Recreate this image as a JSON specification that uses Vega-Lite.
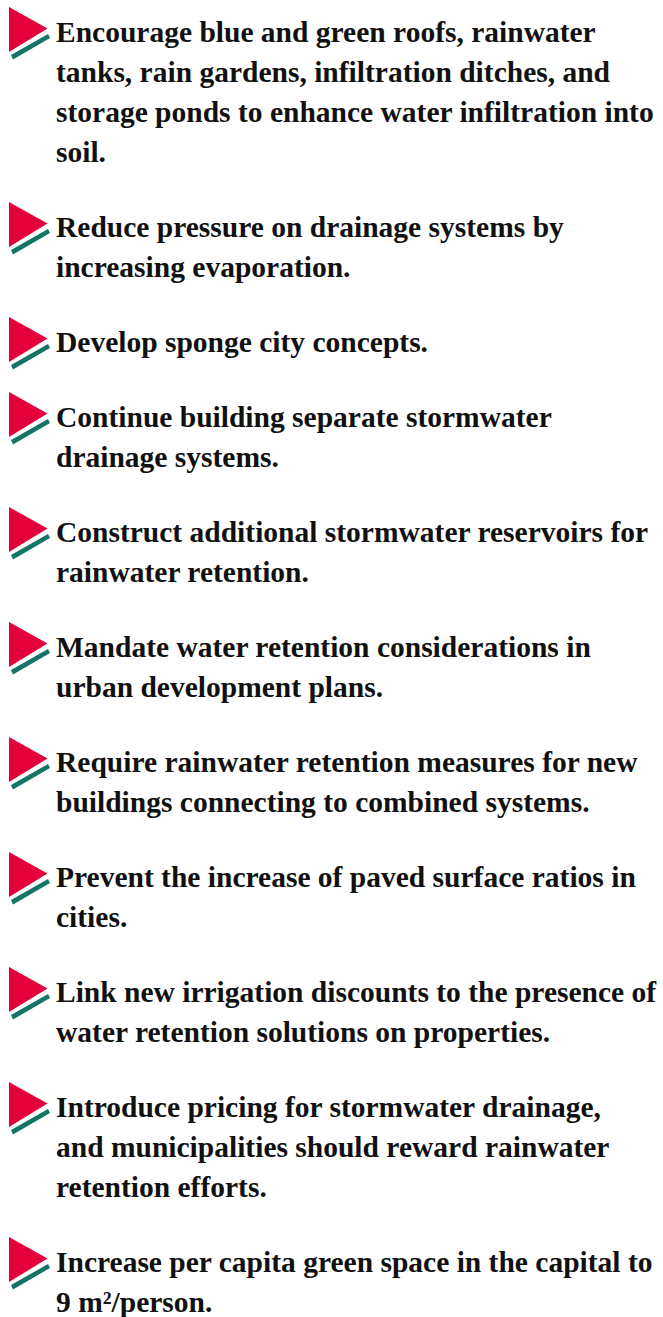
{
  "$schema": "https://vega.github.io/schema/vega-lite/v6.json",
  "autosize": {"type": "pad"},
  "bounds": "flush",
  "padding": {"left": 0, "top": 7, "right": 0, "bottom": 0},
  "background": "#ffffff",
  "config": {"view": {"stroke": null}},
  "data": {
    "values": [
      {"item": 1, "sub": 1, "text": "Encourage blue and green roofs, rainwater"},
      {"item": 1, "sub": 2, "text": "tanks, rain gardens, infiltration ditches, and"},
      {"item": 1, "sub": 3, "text": "storage ponds to enhance water infiltration into"},
      {"item": 1, "sub": 4, "text": "soil."},
      {"item": 2, "sub": 1, "text": "Reduce pressure on drainage systems by"},
      {"item": 2, "sub": 2, "text": "increasing evaporation."},
      {"item": 3, "sub": 1, "text": "Develop sponge city concepts."},
      {"item": 4, "sub": 1, "text": "Continue building separate stormwater"},
      {"item": 4, "sub": 2, "text": "drainage systems."},
      {"item": 5, "sub": 1, "text": "Construct additional stormwater reservoirs for"},
      {"item": 5, "sub": 2, "text": "rainwater retention."},
      {"item": 6, "sub": 1, "text": "Mandate water retention considerations in"},
      {"item": 6, "sub": 2, "text": "urban development plans."},
      {"item": 7, "sub": 1, "text": "Require rainwater retention measures for new"},
      {"item": 7, "sub": 2, "text": "buildings connecting to combined systems."},
      {"item": 8, "sub": 1, "text": "Prevent the increase of paved surface ratios in"},
      {"item": 8, "sub": 2, "text": "cities."},
      {"item": 9, "sub": 1, "text": "Link new irrigation discounts to the presence of"},
      {"item": 9, "sub": 2, "text": "water retention solutions on properties."},
      {"item": 10, "sub": 1, "text": "Introduce pricing for stormwater drainage,"},
      {"item": 10, "sub": 2, "text": "and municipalities should reward rainwater"},
      {"item": 10, "sub": 3, "text": "retention efforts."},
      {"item": 11, "sub": 1, "text": "Increase per capita green space in the capital to"},
      {"item": 11, "sub": 2, "text": "9 m²/person."}
    ]
  },
  "facet": {"row": {"field": "item", "type": "ordinal", "header": null}},
  "spacing": 35,
  "resolve": {"scale": {"y": "independent"}},
  "spec": {
    "width": 663,
    "height": {"step": 40},
    "encoding": {
      "x": {"datum": 0, "type": "quantitative", "scale": {"domain": [0, 1], "range": [56, 663]}, "axis": null},
      "y": {"field": "sub", "type": "ordinal", "axis": null}
    },
    "layer": [
      {
        "mark": {"type": "text", "align": "left", "baseline": "alphabetic", "font": "Liberation Serif", "fontWeight": "bold", "fontSize": 29.5, "color": "#111111"},
        "encoding": {"text": {"field": "text"}}
      },
      {
        "transform": [{"filter": "datum.sub == 1"}],
        "mark": {"type": "point", "shape": "M-47,-35 L-8.5,-13.5 L-47,10 Z", "size": 4, "filled": true, "color": "#e4003a", "opacity": 1, "strokeWidth": 0}
      },
      {
        "transform": [{"filter": "datum.sub == 1"}],
        "mark": {"type": "point", "shape": "M-45,13 L-8,-8 L-6,-4 L-43,17.5 Z", "size": 4, "filled": true, "color": "#137565", "opacity": 1, "strokeWidth": 0}
      }
    ]
  }
}
